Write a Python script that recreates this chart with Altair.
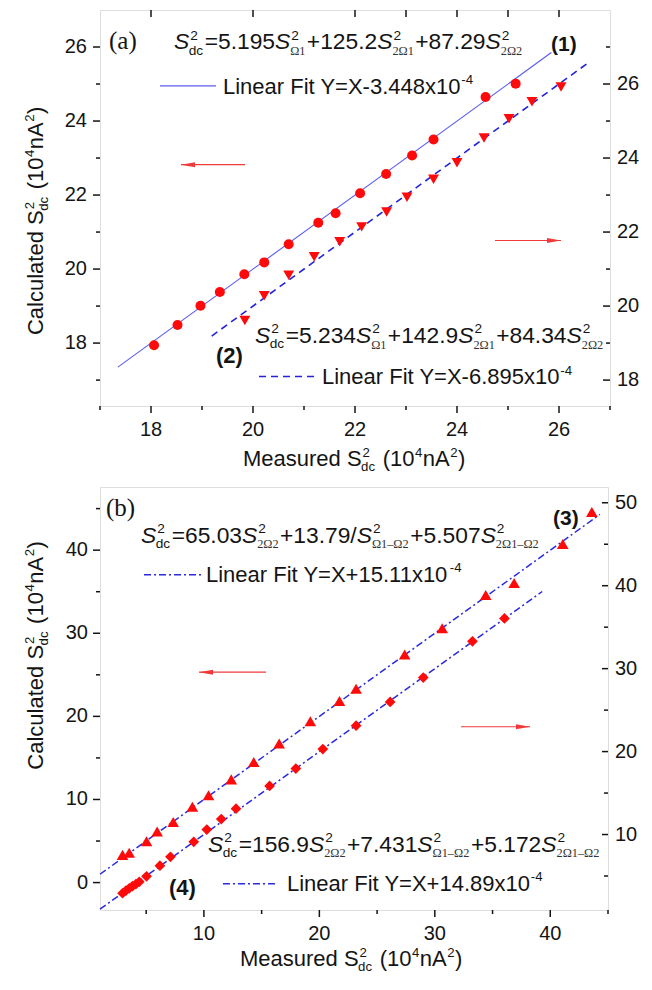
import altair as alt
import pandas as pd

# ---------------- values ----------------
# panel (a): series (1) circles on left axis, series (2) down-triangles on right axis
A1_X = [18.06, 18.52, 18.97, 19.35, 19.83, 20.22, 20.70, 21.28, 21.62, 22.10, 22.61, 23.12, 23.54, 24.56, 25.15]
A1_Y = [17.94, 18.49, 19.01, 19.38, 19.86, 20.18, 20.67, 21.25, 21.51, 22.05, 22.57, 23.07, 23.50, 24.65, 25.01]
A2_X = [19.84, 20.22, 20.70, 21.20, 21.70, 22.13, 22.62, 23.02, 23.54, 24.00, 24.53, 25.02, 25.47, 26.04]
A2_Y = [19.61, 20.28, 20.83, 21.33, 21.74, 22.14, 22.54, 22.94, 23.43, 23.87, 24.54, 25.06, 25.52, 25.92]
FIT1_X = [17.35, 25.85]
FIT1_Y = [17.35, 25.85]
FIT2_X = [19.19, 26.60]
FIT2_Y = [19.19, 26.60]

# panel (b): series (3) up-triangles on left axis, series (4) diamonds on right axis
B3_X = [2.95, 3.53, 5.03, 5.95, 7.34, 9.00, 10.40, 12.37, 14.32, 16.52, 19.22, 21.74, 23.18, 27.39, 30.64, 34.41, 36.87, 41.08, 43.60]
B3_Y = [3.33, 3.60, 4.98, 6.15, 7.30, 9.13, 10.50, 12.42, 14.50, 16.74, 19.41, 21.84, 23.33, 27.45, 30.60, 34.60, 36.04, 40.74, 44.60]
B4_X = [2.95, 3.25, 3.53, 3.82, 4.11, 4.40, 5.03, 6.19, 7.10, 9.12, 10.25, 11.50, 12.78, 15.69, 17.96, 20.30, 23.18, 26.13, 29.00, 33.26, 36.03]
B4_Y = [2.92, 3.24, 3.51, 3.78, 4.02, 4.30, 4.96, 6.25, 7.31, 9.12, 10.60, 11.86, 13.12, 15.86, 17.95, 20.30, 23.12, 25.98, 28.92, 33.30, 36.06]
FIT3_X = [1.0, 44.3]
FIT3_Y = [1.0, 44.3]
FIT4_X = [1.0, 39.3]
FIT4_Y = [1.0, 39.3]

# tick values
A_X_MAJOR = [18, 20, 22, 24, 26]
A_X_MINOR = [17, 19, 21, 23, 25, 27]
A_X_TOP = [18, 20, 22, 23, 24, 25, 26]
A_YL_MAJOR = [18, 20, 22, 24, 26]
A_YL_MINOR = [17, 19, 21, 23, 25]
A_YR_MAJOR = [18, 20, 22, 24, 26]
A_YR_MINOR = [19, 21, 23, 25, 27]
B_X_MAJOR = [10, 20, 30, 40]
B_X_MINOR = [5, 15, 25, 35, 45]
B_YL_MAJOR = [0, 10, 20, 30, 40]
B_YL_MINOR = [5, 15, 25, 35, 45]
B_YR_MAJOR = [10, 20, 30, 40, 50]
B_YR_MINOR = [5, 15, 25, 35, 45]

# ---------------- style ----------------
SANS = "Liberation Sans"
SERIF = "Liberation Serif"
INK = "#141414"
RED = "#ff0a0a"
FIT1_COLOR = "#5c5cf0"
FIT2_COLOR = "#2323dc"
FITB_COLOR = "#2a2ae0"
EQ_F = 22.8
LG_F = 22
TT_F = 22
LAB_F = 20

W_A, H_A, W_B, H_B = 510, 396, 508, 423
KA = H_A / 402.0
KB = H_B / 434.0

XA = alt.Scale(domain=[17, 27], nice=False, zero=False)
YAL = alt.Scale(domain=[16.3, 27.0], nice=False, zero=False)
YAR = alt.Scale(domain=[17.3, 28.0], nice=False, zero=False)
XB = alt.Scale(domain=[1, 45], nice=False, zero=False)
YBL = alt.Scale(domain=[-3.3, 47.6], nice=False, zero=False)
YBR = alt.Scale(domain=[0.9, 51.9], nice=False, zero=False)

ONE = pd.DataFrame({"k": [0]})

SANS_W = {' ': .278, '(': .333, ')': .333, '+': .584, '-': .333, '.': .278, '/': .278, '=': .584,
          'A': .667, 'C': .722, 'F': .611, 'I': .278, 'L': .556, 'M': .833, 'S': .667, 'X': .667,
          'Y': .667, 'a': .556, 'c': .5, 'd': .556, 'e': .556, 'i': .222, 'l': .222, 'n': .556,
          'r': .333, 's': .5, 't': .278, 'u': .556, 'x': .5}
for _c in "0123456789":
    SANS_W[_c] = .556
SERIF_W = {'Ω': .768, '–': .5, '(': .333, ')': .333}
for _c in "0123456789":
    SERIF_W[_c] = .5


def width(s, size, table):
    return sum(table.get(c, .556) for c in s) * size


def txt(x, y, s, size, font=SANS, style="normal", weight="normal", color=INK, angle=0):
    return alt.Chart(ONE).mark_text(
        text=s, font=font, fontSize=size, fontStyle=style, fontWeight=weight,
        color=color, angle=angle, align="left", baseline="alphabetic"
    ).encode(x=alt.value(x), y=alt.value(y))


def rich(parts, x0, base, f, angle=0):
    out = []
    adv = [0.0]

    def put(a, up, s, size, font, style="normal", col=INK):
        if angle == 0:
            x, y = x0 + a, base - up
        else:
            x, y = x0 - up, base - a
        out.append(txt(x, y, s, size, font=font, style=style, color=col, angle=angle))

    for p in parts:
        kind = p[0]
        if kind == "n":
            s = p[1]
            lead = len(s) - len(s.lstrip(" "))
            adv[0] += lead * SANS_W[' '] * f
            s = s.lstrip(" ")
            put(adv[0], 0, s, f, SANS)
            adv[0] += width(s, f, SANS_W)
        elif kind in ("S", "b"):
            a = adv[0]
            if kind == "S":
                put(a, 0, "S", f, SANS, "italic")
                a += width("S", f, SANS_W)
            fs = 0.6 * f
            put(a + 1, 0.42 * f, "2", fs, SANS)
            w = width("2", fs, SANS_W)
            if p[2] == "sans":
                put(a - 0.5, -0.24 * f, p[1], fs, SANS)
                w = max(w, width(p[1], fs, SANS_W))
            else:
                fs2 = 0.54 * f
                put(a, -0.26 * f, p[1], fs2, SERIF, col="#333")
                w = max(w, width(p[1], fs2, SERIF_W))
            adv[0] = a + w + 1
        elif kind == "p":
            fs = 0.6 * f
            put(adv[0] + 0.5, 0.42 * f, p[1], fs, SANS)
            adv[0] += width(p[1], fs, SANS_W) + 1
    return out


def hline(x1, x2, y, color, w=1.0, dash=None):
    kw = dict(color=color, strokeWidth=w)
    if dash:
        kw["strokeDash"] = dash
    return alt.Chart(ONE).mark_rule(**kw).encode(x=alt.value(x1), x2=alt.value(x2), y=alt.value(y))


HEAD_L = "M-1,0L1,-0.36L1,0.36Z"
HEAD_R = "M1,0L-1,-0.36L-1,0.36Z"


def arrow(x1, x2, y, left=True):
    col = "#f03a3a"
    shaft = hline(x1, x2, y, col, 1.2)
    cx = x1 + 7 if left else x2 - 7
    head = alt.Chart(ONE).mark_point(
        shape=HEAD_L if left else HEAD_R, filled=True, size=196, color=col, opacity=1, strokeWidth=0
    ).encode(x=alt.value(cx), y=alt.value(y))
    return [shaft, head]


def yticks(values, scale, x1, x2):
    return alt.Chart(pd.DataFrame({"v": values})).mark_rule(color=INK, strokeWidth=1.5).encode(
        y=alt.Y("v:Q", scale=scale, axis=None), x=alt.value(x1), x2=alt.value(x2))


def xticks(values, scale, y1, y2):
    return alt.Chart(pd.DataFrame({"v": values})).mark_rule(color=INK, strokeWidth=1.5).encode(
        x=alt.X("v:Q", scale=scale, axis=None), y=alt.value(y1), y2=alt.value(y2))


def ylabels(values, scale, x, align):
    return alt.Chart(pd.DataFrame({"v": values})).mark_text(
        align=align, baseline="middle", font=SANS, fontSize=LAB_F, color=INK
    ).encode(y=alt.Y("v:Q", scale=scale, axis=None), x=alt.value(x), text=alt.Text("v:Q", format="d"))


def xlabels(values, scale, y):
    return alt.Chart(pd.DataFrame({"v": values})).mark_text(
        align="center", baseline="top", font=SANS, fontSize=LAB_F, color=INK
    ).encode(x=alt.X("v:Q", scale=scale, axis=None), y=alt.value(y), text=alt.Text("v:Q", format="d"))


def series(xs, ys, xscale, yscale, shape, size):
    return alt.Chart(pd.DataFrame({"x": xs, "y": ys})).mark_point(
        shape=shape, filled=True, size=size, color=RED, opacity=1, strokeWidth=0
    ).encode(x=alt.X("x:Q", scale=xscale, axis=None), y=alt.Y("y:Q", scale=yscale, axis=None))


def fitline(xs, ys, xscale, yscale, color, w, dash=None):
    kw = dict(color=color, strokeWidth=w)
    if dash:
        kw["strokeDash"] = dash
    return alt.Chart(pd.DataFrame({"x": xs, "y": ys})).mark_line(**kw).encode(
        x=alt.X("x:Q", scale=xscale, axis=None), y=alt.Y("y:Q", scale=yscale, axis=None))


XTITLE = [("n", "Measured S"), ("b", "dc", "sans"), ("n", " (10"), ("p", "4"), ("n", "nA"), ("p", "2"), ("n", ")")]
YTITLE = [("n", "Calculated S"), ("b", "dc", "sans"), ("n", " (10"), ("p", "4"), ("n", "nA"), ("p", "2"), ("n", ")")]
EQ1 = [("S", "dc", "sans"), ("n", "=5.195"), ("S", "Ω1", "serif"), ("n", "+125.2"), ("S", "2Ω1", "serif"),
       ("n", "+87.29"), ("S", "2Ω2", "serif")]
EQ2 = [("S", "dc", "sans"), ("n", "=5.234"), ("S", "Ω1", "serif"), ("n", "+142.9"), ("S", "2Ω1", "serif"),
       ("n", "+84.34"), ("S", "2Ω2", "serif")]
EQ3 = [("S", "dc", "sans"), ("n", "=65.03"), ("S", "2Ω2", "serif"), ("n", "+13.79/"), ("S", "Ω1–Ω2", "serif"),
       ("n", "+5.507"), ("S", "2Ω1–Ω2", "serif")]
EQ4 = [("S", "dc", "sans"), ("n", "=156.9"), ("S", "2Ω2", "serif"), ("n", "+7.431"), ("S", "Ω1–Ω2", "serif"),
       ("n", "+5.172"), ("S", "2Ω1–Ω2", "serif")]
LEG1 = [("n", "Linear Fit Y=X-3.448x10"), ("p", "-4")]
LEG2 = [("n", "Linear Fit Y=X-6.895x10"), ("p", "-4")]
LEG3 = [("n", "Linear Fit Y=X+15.11x10"), ("p", "-4")]
LEG4 = [("n", "Linear Fit Y=X+14.89x10"), ("p", "-4")]

# ---------------- panel (a) ----------------
a_left = alt.layer(
    fitline(FIT1_X, FIT1_Y, XA, YAL, FIT1_COLOR, 1.1),
    series(A1_X, A1_Y, XA, YAL, "circle", 100),
    yticks(A_YL_MAJOR, YAL, -7, 0),
    yticks(A_YL_MINOR, YAL, -4, 0),
    ylabels(A_YL_MAJOR, YAL, -13, "right"),
    xticks(A_X_MAJOR, XA, H_A, H_A + 7),
    xticks(A_X_MINOR, XA, H_A, H_A + 4),
    xticks(A_X_TOP, XA, 0, 7),
    xlabels(A_X_MAJOR, XA, H_A + 14),
)
a_right = alt.layer(
    fitline(FIT2_X, FIT2_Y, XA, YAR, FIT2_COLOR, 1.6, [7, 5]),
    series(A2_X, A2_Y, XA, YAR, "triangle-down", 120),
    yticks(A_YR_MAJOR, YAR, W_A - 7, W_A),
    yticks(A_YR_MINOR, YAR, W_A - 4, W_A),
    ylabels(A_YR_MAJOR, YAR, W_A + 7, "left"),
)
ann_a = [txt(9, 40 * KA, "(a)", 25, font=SERIF)]
ann_a += rich(EQ1, 74, 40 * KA, EQ_F)
ann_a.append(txt(451, 42 * KA, "(1)", 21, weight="bold"))
ann_a.append(hline(60, 116, 77 * KA, FIT1_COLOR, 1.1))
ann_a += rich(LEG1, 123, 85 * KA, LG_F)
ann_a += arrow(81, 145, 157 * KA, True)
ann_a += arrow(395, 461, 234 * KA, False)
ann_a += rich(EQ2, 155, 338 * KA, EQ_F)
ann_a.append(txt(116, 358 * KA, "(2)", 22, weight="bold"))
ann_a.append(hline(159, 218, 372 * KA, FIT2_COLOR, 1.6, [7, 5]))
ann_a += rich(LEG2, 222, 380 * KA, LG_F)
ann_a += rich(XTITLE, 143, H_A + 60, TT_F)
ann_a += rich(YTITLE, -57, 330 * KA, TT_F, angle=270)

panel_a = alt.layer(a_left, a_right, *ann_a).resolve_scale(y="independent").properties(width=W_A, height=H_A)

# ---------------- panel (b) ----------------
b_left = alt.layer(
    fitline(FIT3_X, FIT3_Y, XB, YBL, FITB_COLOR, 1.5, [7, 3, 2, 3]),
    series(B3_X, B3_Y, XB, YBL, "triangle-up", 135),
    yticks(B_YL_MAJOR, YBL, -7, 0),
    yticks(B_YL_MINOR, YBL, -4, 0),
    ylabels(B_YL_MAJOR, YBL, -12, "right"),
    xticks(B_X_MAJOR, XB, H_B, H_B + 7),
    xticks(B_X_MINOR, XB, H_B, H_B + 4),
    xlabels(B_X_MAJOR, XB, H_B + 14),
)
b_right = alt.layer(
    fitline(FIT4_X, FIT4_Y, XB, YBR, FITB_COLOR, 1.5, [7, 3, 2, 3]),
    series(B4_X, B4_Y, XB, YBR, "diamond", 115),
    yticks(B_YR_MAJOR, YBR, W_B - 6, W_B),
    yticks(B_YR_MINOR, YBR, W_B - 4, W_B),
    ylabels(B_YR_MAJOR, YBR, W_B + 7, "left"),
)
ann_b = [txt(6, 30 * KB, "(b)", 25, font=SERIF)]
ann_b += rich(EQ3, 41, 57 * KB, EQ_F)
ann_b.append(hline(44, 101, 90 * KB, FITB_COLOR, 1.5, [7, 3, 2, 3]))
ann_b += rich(LEG3, 106, 97 * KB, LG_F)
ann_b.append(txt(453, 39 * KB, "(3)", 21, weight="bold"))
ann_b += arrow(99, 166, 190 * KB, True)
ann_b += arrow(361, 430, 246 * KB, False)
ann_b += rich(EQ4, 108, 374 * KB, EQ_F)
ann_b.append(txt(69, 419 * KB, "(4)", 22, weight="bold"))
ann_b.append(hline(123, 178, 407 * KB, FITB_COLOR, 1.5, [7, 3, 2, 3]))
ann_b += rich(LEG4, 187, 414 * KB, LG_F)
ann_b += rich(XTITLE, 140, H_B + 56, TT_F)
ann_b += rich(YTITLE, -57, 290 * KB, TT_F, angle=270)

panel_b = alt.layer(b_left, b_right, *ann_b).resolve_scale(y="independent").properties(width=W_B, height=H_B)

chart = alt.vconcat(panel_a, panel_b, spacing=12).properties(
    padding={"left": 14, "top": 0, "right": 2, "bottom": 0}
).configure_view(stroke=INK, strokeWidth=1.6).configure(background="white")

chart.save("out.html", embed_options={"renderer": "svg", "actions": False})
